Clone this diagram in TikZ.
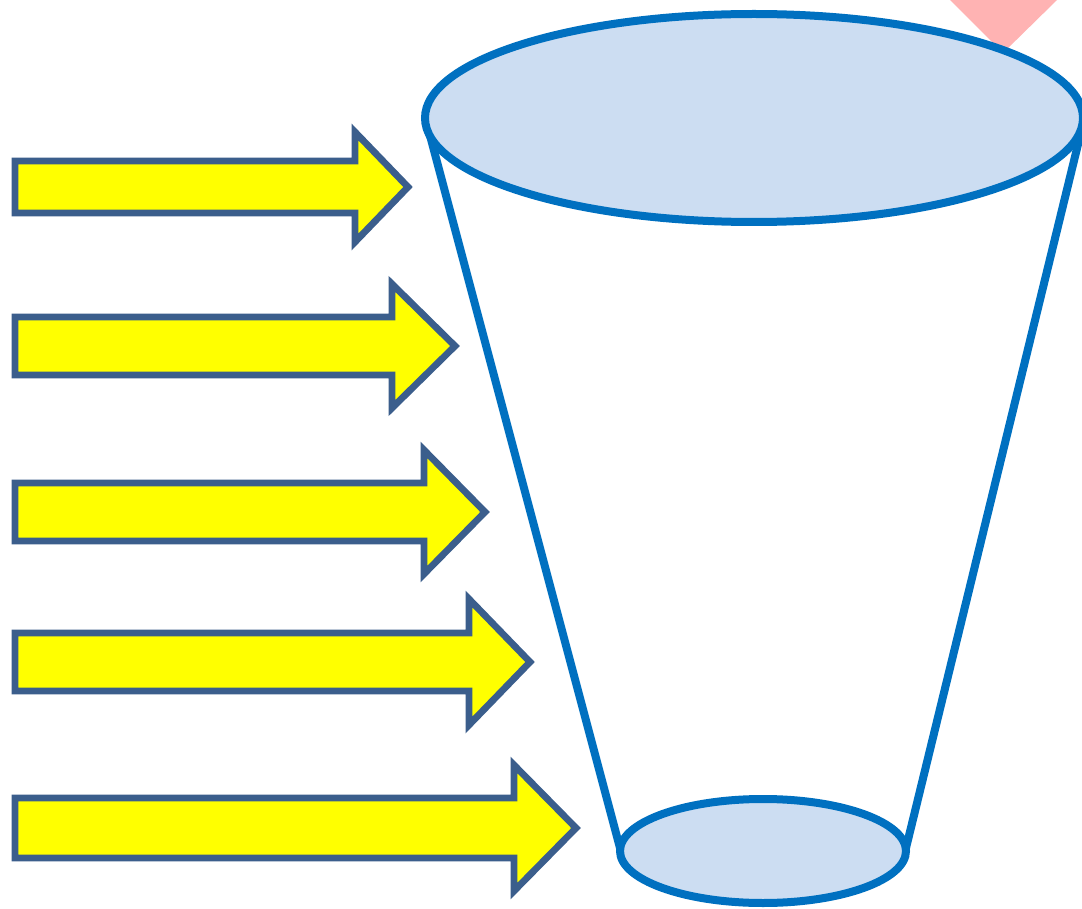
\documentclass[tikz,border=0pt]{standalone}
\usepackage{tikz}
\usetikzlibrary{calc}

\definecolor{cupblue}{HTML}{0070C0}
\definecolor{cupfill}{HTML}{CCDDF2}
\definecolor{arrowedge}{HTML}{3B5E8C}
\definecolor{arrowfill}{HTML}{FFFF00}
\definecolor{pinktri}{HTML}{FFB3B3}

\begin{document}
\begin{tikzpicture}[
        x=0.5pt, y=-0.5pt,
        cupline/.style={cupblue, line width=4pt},
        rim/.style={cupline, fill=cupfill},
        feedarrow/.style={draw=arrowedge, fill=arrowfill, line width=3.4pt, line join=miter},
    ]
        \clip (0,0) rectangle (1082,909);

        % Pink wedge behind the rim
        \fill[pinktri] (950,0) -- (1057,0) -- (1003,53) -- cycle;

        % Cup sides
        \draw[cupline] (428,128) -- (620,848);
        \draw[cupline] (1082,128) -- (906,848);

        % Top and bottom openings
        \draw[rim] (754,118) ellipse [x radius=329, y radius=104];
        \draw[rim] (763,851) ellipse [x radius=143, y radius=52];

        % Arrows: centre y / shaft end / tip / shaft half / head half
        \foreach \c/\e/\t/\h/\H in {187/355/408/26/55, 346/392/455/29/62,
                512/424/485/29/62, 662/469/530/29/63, 828/514/576/30/63}
            \draw[feedarrow] (15,\c-\h) -- (\e,\c-\h) -- (\e,\c-\H) -- (\t,\c)
                -- (\e,\c+\H) -- (\e,\c+\h) -- (15,\c+\h) -- cycle;
    \end{tikzpicture}
\end{document}
